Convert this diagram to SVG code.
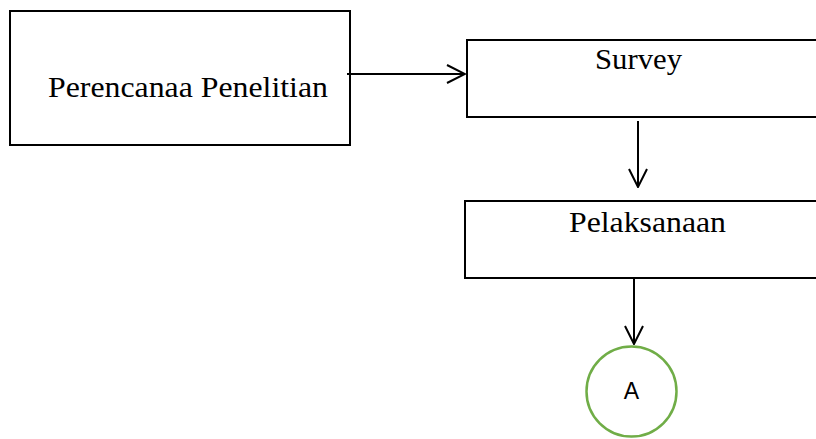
<svg xmlns="http://www.w3.org/2000/svg" width="816" height="439" viewBox="0 0 816 439">
<style>
.box{fill:#fff;stroke:#000;stroke-width:2}
.lbl{font-family:'Liberation Serif','Times New Roman',Times,serif;font-size:29px;fill:#000}
.edge{stroke:#000;stroke-width:2;fill:none}
</style>
<defs>
<marker id="arr" markerWidth="20" markerHeight="20" refX="19" refY="10" orient="auto" markerUnits="userSpaceOnUse">
<path d="M1,1 L19,10 L1,19" fill="none" stroke="#000" stroke-width="2"/>
</marker>
</defs>
<rect width="816" height="439" fill="#fff"/>
<g id="n1">
<rect class="box" x="10" y="11" width="340" height="134"/>
<text class="lbl" x="48" y="97" textLength="280" lengthAdjust="spacingAndGlyphs">Perencanaa Penelitian</text>
</g>
<g id="n2">
<rect class="box" x="467" y="40" width="360" height="77"/>
<text class="lbl" x="595" y="69" textLength="87" lengthAdjust="spacingAndGlyphs">Survey</text>
</g>
<g id="n3">
<rect class="box" x="465" y="201" width="360" height="77"/>
<text class="lbl" x="569" y="232" textLength="157" lengthAdjust="spacingAndGlyphs">Pelaksanaan</text>
</g>
<g id="n4">
<circle cx="631.5" cy="391.5" r="45" fill="#fff" stroke="#70AD47" stroke-width="2.5"/>
<text x="631.5" y="399" text-anchor="middle" font-family="'Liberation Sans', Arial, sans-serif" font-size="23" fill="#000">A</text>
</g>
<g id="edges">
<line class="edge" x1="347" y1="74" x2="465" y2="74" marker-end="url(#arr)"/>
<line class="edge" x1="638" y1="121" x2="638" y2="187" marker-end="url(#arr)"/>
<line class="edge" x1="634" y1="277" x2="634" y2="344" marker-end="url(#arr)"/>
</g>
</svg>
